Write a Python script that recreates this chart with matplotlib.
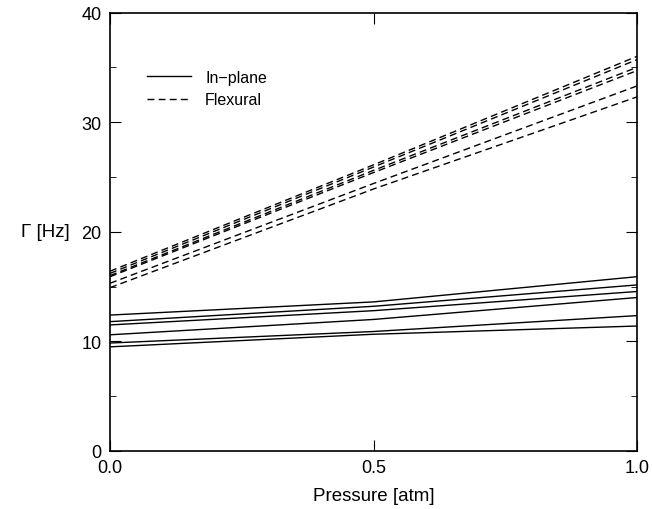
import numpy as np
import matplotlib
matplotlib.use('Agg')
import matplotlib.pyplot as plt
from matplotlib.ticker import MultipleLocator

plt.rcParams['font.family'] = ['Liberation Sans', 'DejaVu Sans']

pressure = [0.0, 0.5, 1.0]

# in-plane modes (solid)
inplane = [
    [12.4, 13.6, 15.9],
    [11.8, 13.2, 15.15],
    [11.5, 12.8, 14.55],
    [10.6, 12.0, 14.0],
    [9.85, 10.9, 12.35],
    [9.5, 10.65, 11.4],
]

# flexural modes (dashed)
flexural = [
    [16.4, 26.1, 36.0],
    [16.2, 25.9, 35.7],
    [16.0, 25.6, 35.0],
    [15.9, 25.4, 34.7],
    [15.3, 24.4, 33.3],
    [14.9, 23.9, 32.3],
]

fig = plt.figure(figsize=(6.52, 5.10), dpi=100)
ax = fig.add_axes([110/652, 1-452/510, 527/652, 438.5/510])

for i, y in enumerate(inplane):
    ax.plot(pressure, y, color='black', lw=1.0, label='In\u2212plane' if i == 0 else None)
for i, y in enumerate(flexural):
    ax.plot(pressure, y, color='black', lw=1.0, linestyle=(0, (5, 3)),
            label='Flexural' if i == 0 else None)

ax.set_xlim(0, 1)
ax.set_ylim(0, 40)
ax.set_xticks([0, 0.5, 1.0])
ax.set_xticklabels(['0.0', '0.5', '1.0'])
ax.set_yticks([0, 10, 20, 30, 40])
ax.yaxis.set_minor_locator(MultipleLocator(5))
ax.tick_params(which='both', direction='in', top=True, right=True, labelsize=13, pad=6)
ax.tick_params(which='major', length=8)
ax.tick_params(which='minor', length=4)
for s in ax.spines.values():
    s.set_linewidth(1.2)

ax.set_xlabel('Pressure [atm]', fontsize=13.5, labelpad=8)
ax.set_ylabel('\u0393 [Hz]', fontsize=13.5, rotation=0, ha='center', va='center')
ax.yaxis.set_label_coords(-0.122, 0.5)

ax.legend(loc='upper left', bbox_to_anchor=(0.07, 0.869), frameon=False, fontsize=11.5,
          borderaxespad=0, borderpad=0,
          handlelength=2.75, handletextpad=0.9, labelspacing=0.45)

fig.savefig('out.png', dpi=100)
